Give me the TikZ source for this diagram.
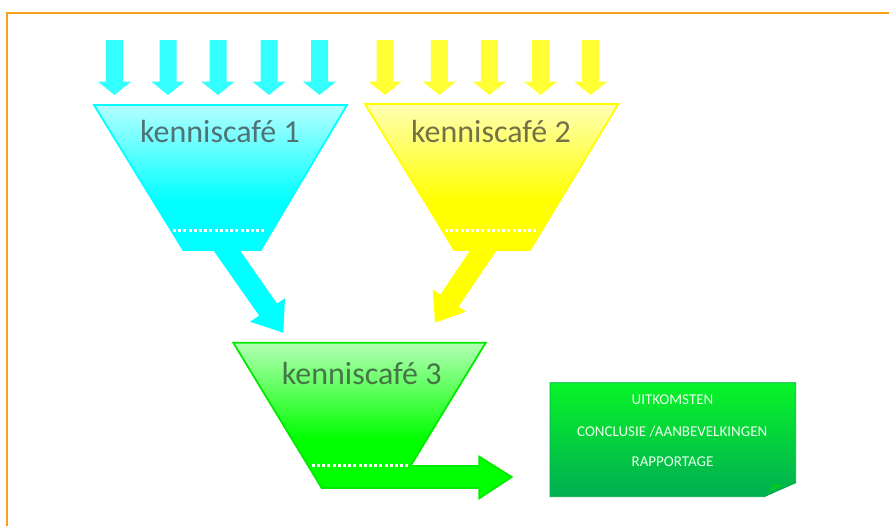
\documentclass[tikz,border=0pt]{standalone}
\usepackage{fontspec}
\setmainfont{Carlito}

% palette
\definecolor{frameorange}{RGB}{246,160,26}
\definecolor{cyanfull}{RGB}{0,255,255}
\definecolor{cyanpale}{RGB}{180,255,255}
\definecolor{cyanin}{RGB}{51,255,255}
\definecolor{cyantext}{RGB}{80,114,114}
\definecolor{yellowfull}{RGB}{255,255,0}
\definecolor{yellowpale}{RGB}{255,255,180}
\definecolor{yellowin}{RGB}{255,255,51}
\definecolor{yellowtext}{RGB}{114,114,70}
\definecolor{greenfull}{RGB}{0,255,0}
\definecolor{greenpale}{RGB}{180,255,180}
\definecolor{greenline}{RGB}{0,235,0}
\definecolor{greentext}{RGB}{70,118,70}
\definecolor{boxtop}{RGB}{8,244,40}
\definecolor{boxbottom}{RGB}{0,174,82}
\definecolor{boxedge}{RGB}{0,170,70}
\definecolor{boxfold}{RGB}{0,205,30}
\definecolor{boxtext}{RGB}{235,255,235}

% funnels: pale at the rim, full colour in the lower third
\pgfdeclareverticalshading{cyanfunnel}{100bp}{color(0bp)=(cyanfull); color(25bp)=(cyanfull); color(42bp)=(cyanfull); color(75bp)=(cyanpale); color(100bp)=(cyanpale)}
\pgfdeclareverticalshading{yellowfunnel}{100bp}{color(0bp)=(yellowfull); color(25bp)=(yellowfull); color(42bp)=(yellowfull); color(75bp)=(yellowpale); color(100bp)=(yellowpale)}
\pgfdeclareverticalshading{greenfunnel}{100bp}{color(0bp)=(greenfull); color(25bp)=(greenfull); color(44bp)=(greenfull); color(75bp)=(greenpale); color(100bp)=(greenpale)}

\tikzset{
  funneltext/.style={font=\fontsize{32}{36}\selectfont, inner sep=0pt},
  boxline/.style={font=\fontsize{15}{18}\selectfont, text=boxtext, inner sep=0pt},
  spout/.style={line width=3pt, white, dash pattern=on 3pt off 2.2pt},
  inarrow/.pic={
    \fill (-8.5,0) -- (8.5,0) -- (8.5,41.7) -- (16.5,41.7) -- (0,55)
          -- (-16.5,41.7) -- (-8.5,41.7) -- cycle;
  }
}

\begin{document}
\begin{tikzpicture}[x=1pt,y=-1pt]
\useasboundingbox (0,0) rectangle (889,525);

% frame
\draw[frameorange, line width=1.8pt] (889,13) -- (7,13) -- (7,526);

% incoming arrows
\foreach \cx in {114.5,168,218,269,319.5}
  \pic[cyanin] at (\cx,40) {inarrow};
\foreach \cx in {385,439.3,489.3,540.7,590.7}
  \pic[yellowin] at (\cx,40) {inarrow};

% outlet arrows of the two upper funnels
\fill[cyanfull] (211.7,248) -- (259.1,315.6) -- (250,321.7) -- (283.3,332.7)
  -- (285,298.3) -- (277,303.6) -- (238.3,248) -- cycle;
\fill[yellowfull] (498.3,248) -- (458.5,306.7) -- (466,311.7) -- (435,322.7)
  -- (432.7,289.3) -- (440.4,294.5) -- (471.7,248) -- cycle;

% funnel 1
\draw[cyanfull, line width=1.8pt, shading=cyanfunnel]
  (94,105) -- (347,105) -- (260.7,250) -- (183.3,250) -- cycle;
\draw[spout] (173,230) -- (266,230);
\node[funneltext, text=cyantext] (k1) at (220,131.7) {kenniscafé 1};

% funnel 2
\draw[yellowfull, line width=1.8pt, shading=yellowfunnel]
  (365,104) -- (618.3,104) -- (530,250) -- (454.3,250) -- cycle;
\draw[spout] (445,230) -- (537,230);
\node[funneltext, text=yellowtext] (k2) at (491,131.7) {kenniscafé 2};

% funnel 3 with its outlet arrow
\draw[greenline, line width=1.8pt, shading=greenfunnel]
  (233.3,342.7) -- (485.7,342.7) -- (410.5,466) -- (479.3,466) -- (479.3,456.7)
  -- (511.7,477) -- (479.3,498.3) -- (479.3,488) -- (321.7,488) -- cycle;
\draw[spout] (311.7,465) -- (410,465);
\node[funneltext, text=greentext] (k3) at (361.7,373.3) {kenniscafé 3};

% result sheet with folded corner
\draw[boxedge, line width=0.9pt, top color=boxtop, bottom color=boxbottom]
  (550,382.7) -- (795.7,382.7) -- (795.7,482.7) -- (764,496.7) -- (550,496.7) -- cycle;
\fill[boxfold] (768.5,491.5) -- (775,484) -- (784,485.3) -- cycle;
\node[boxline] (r1) at (672.5,400) {UITKOMSTEN};
\node[boxline] (r2) at (672.2,431.7) {CONCLUSIE /AANBEVELKINGEN};
\node[boxline] (r3) at (672.5,461.7) {RAPPORTAGE};
\end{tikzpicture}
\end{document}
